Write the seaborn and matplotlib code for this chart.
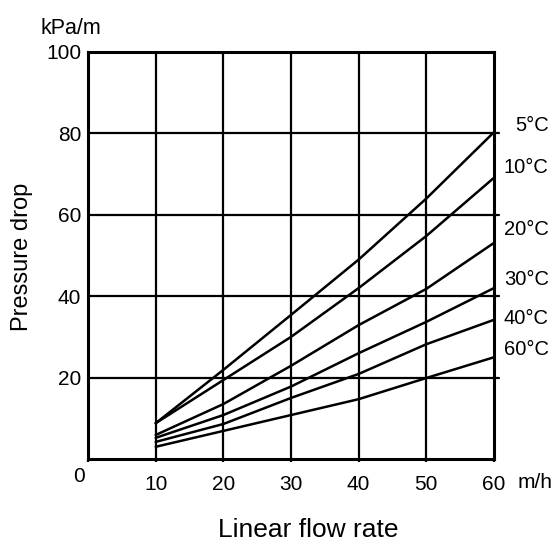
import matplotlib
matplotlib.use('Agg')
import matplotlib.pyplot as plt
import seaborn as sns
import pandas as pd

flow = [10, 20, 30, 40, 50, 60]
temps = ['5°C', '10°C', '20°C', '30°C', '40°C', '60°C']
drop_5 = [8.8, 21.9, 35.4, 49.0, 64.0, 80.3]
drop_10 = [8.8, 19.4, 30.0, 42.0, 54.8, 69.1]
drop_20 = [5.9, 13.5, 22.9, 32.9, 41.8, 53.1]
drop_30 = [5.2, 10.8, 17.8, 26.0, 33.7, 42.0]
drop_40 = [4.2, 8.6, 15.0, 20.9, 28.2, 34.2]
drop_60 = [3.0, 6.9, 10.8, 14.7, 19.9, 25.0]
label_y = [82, 71.7, 56.3, 44, 34.6, 26.8]

df = pd.DataFrame({
    'flow': flow * 6,
    'drop': drop_5 + drop_10 + drop_20 + drop_30 + drop_40 + drop_60,
    'temp': [t for t in temps for _ in flow],
})

sns.set_style('white')
plt.rcParams['font.family'] = ['Liberation Sans', 'DejaVu Sans']
plt.rcParams['text.color'] = 'black'
plt.rcParams['xtick.color'] = 'black'
plt.rcParams['ytick.color'] = 'black'

fig = plt.figure(figsize=(5.55, 5.45), dpi=100)
ax = fig.add_axes([0.1586, 0.1578, 0.7315, 0.7468])

# grid lines, horizontal ones poke a little past the right edge
for v in [10, 20, 30, 40, 50]:
    ax.axvline(v, color='black', lw=1.6, zorder=1)
for v in [20, 40, 60, 80]:
    ax.axhline(v, xmax=1.012, color='black', lw=1.6, clip_on=False, zorder=1)

sns.lineplot(data=df, x='flow', y='drop', hue='temp', hue_order=temps,
             palette=['black'] * 6, lw=1.8, legend=False, ax=ax, zorder=2)

ax.set_xlim(0, 60)
ax.set_ylim(0, 100)
ax.set_xticks([0, 10, 20, 30, 40, 50, 60])
ax.set_xticklabels(['', '10', '20', '30', '40', '50', '60'])
ax.set_yticks([20, 40, 60, 80, 100])
ax.tick_params(axis='x', length=2.5, width=1.6, direction='out',
               bottom=True, labelsize=15, pad=9)
ax.tick_params(axis='y', length=0, labelsize=15, pad=5)
ax.set_xlabel('')
ax.set_ylabel('')
for s in ax.spines.values():
    s.set_visible(True)
    s.set_color('black')
    s.set_linewidth(2.2)

for t, y in zip(temps, label_y):
    ax.text(68.1, y, t, ha='right', va='center', fontsize=14.5, clip_on=False)

ax.text(-1.4, -4.3, '0', ha='center', va='center', fontsize=15, clip_on=False)
ax.text(66.0, -5.8, 'm/h', ha='center', va='center', fontsize=15, clip_on=False)
fig.text(71 / 555, 1 - 28 / 545, 'kPa/m', ha='center', va='center', fontsize=15.5)
fig.text(22 / 555, 1 - 257 / 545, 'Pressure drop', ha='center', va='center',
         rotation=90, fontsize=17)
fig.text(308 / 555, 1 - 530 / 545, 'Linear flow rate', ha='center', va='center',
         fontsize=19)

fig.savefig('out.png', dpi=100)
